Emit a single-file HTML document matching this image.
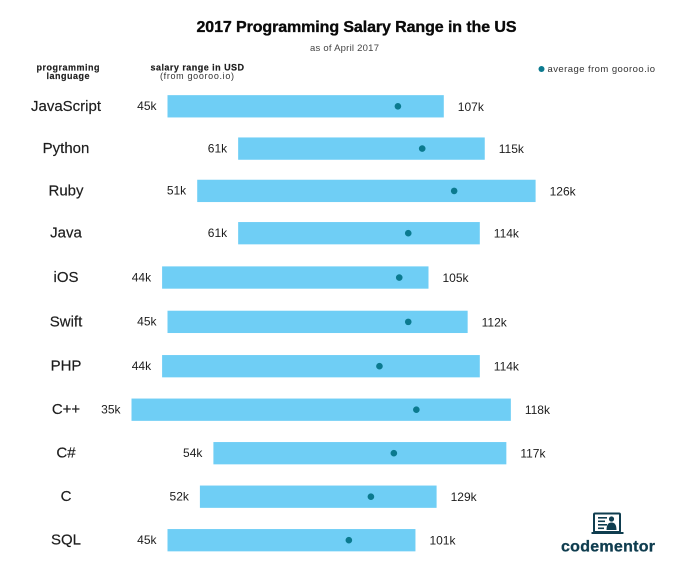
<!DOCTYPE html>
<html lang="en">
<head>
<meta charset="utf-8">
<title>2017 Programming Salary Range in the US</title>
<style>
html,body{margin:0;padding:0;background:#fff;}
svg{display:block;}
text{font-family:"Liberation Sans",sans-serif;fill:#1d1d1d;}
.heavy{stroke:#0a0a0a;stroke-width:.35px;}
.semi{stroke:#1d1d1d;stroke-width:.18px;}
</style>
</head>
<body>
<svg id="chart" width="680" height="577" viewBox="0 0 680 577" xmlns="http://www.w3.org/2000/svg">
  <rect width="680" height="577" fill="#ffffff"/>
  <text class="heavy" x="196.5" y="32" font-size="16" font-weight="bold" style="fill:#0a0a0a" textLength="320" lengthAdjust="spacing">2017 Programming Salary Range in the US</text>
  <text x="310" y="51" font-size="9.5" style="fill:#444" textLength="69" lengthAdjust="spacing">as of April 2017</text>
  <g>
    <text class="semi" x="36.5" y="70.5" font-size="9" font-weight="bold" textLength="63" lengthAdjust="spacing">programming</text>
    <text class="semi" x="46.5" y="79" font-size="9" font-weight="bold" textLength="43" lengthAdjust="spacing">language</text>
  </g>
  <g>
    <text class="semi" x="150.5" y="70.5" font-size="9" font-weight="bold" textLength="93.5" lengthAdjust="spacing">salary range in USD</text>
    <text x="160" y="79" font-size="9" style="fill:#333" textLength="74" lengthAdjust="spacing">(from gooroo.io)</text>
  </g>
  <g>
    <circle cx="541.5" cy="69" r="3" fill="#0b7a8f"/>
    <text x="547.5" y="72" font-size="9.5" style="fill:#333" textLength="107.5" lengthAdjust="spacing">average from gooroo.io</text>
  </g>
  <g id="rows"></g>
  <g>
    <g>
      <rect x="594" y="513.5" width="26" height="18.5" rx="1" fill="none" stroke="#0f3d4f" stroke-width="2"/>
      <rect x="591.5" y="532" width="32" height="2" fill="#0f3d4f"/>
      <rect x="598" y="517" width="9" height="1.6" fill="#0f3d4f"/>
      <rect x="598" y="520.5" width="7" height="1.6" fill="#0f3d4f"/>
      <rect x="598" y="524" width="9" height="1.6" fill="#0f3d4f"/>
      <rect x="598" y="527.5" width="6" height="1.6" fill="#0f3d4f"/>
      <circle cx="611.5" cy="519" r="2.6" fill="#0f3d4f"/>
      <path d="M606.5 530 Q606.5 522.5 611.5 522.5 Q616.5 522.5 616.5 530 Z" fill="#0f3d4f"/>
    </g>
    <text x="561" y="551.5" font-size="16" font-weight="bold" style="fill:#0f3d4f;stroke:#0f3d4f;stroke-width:.3px" textLength="94" lengthAdjust="spacing">codementor</text>
  </g>
</svg>
<script>
const categories = ["JavaScript","Python","Ruby","Java","iOS","Swift","PHP","C++","C#","C","SQL"];
const rangeLow = [45.0,60.7,51.6,60.7,43.8,45.0,43.8,37.0,55.2,52.2,45.0];
const rangeHigh = [106.4,115.5,126.8,114.4,103.0,111.7,114.4,121.3,120.3,104.8,100.1];
const averages = [96.2,101.6,108.7,98.5,96.5,98.5,92.1,100.3,95.3,90.2,85.3];
const lowLabels = ["45k","61k","51k","61k","44k","45k","44k","35k","54k","52k","45k"];
const highLabels = ["107k","115k","126k","114k","105k","112k","114k","118k","117k","129k","101k"];

const SVG_NS = "http://www.w3.org/2000/svg";
const rowsGroup = document.getElementById("rows");

function xScale(value) {
  return 4.5 * value - 35;
}

// Row axis: piecewise linear, matching the uneven row spacing of the artwork.
function yScale(rowIndex) {
  const knots = [0, 3, 6, 10];
  const centers = [106.3, 233.2, 366.2, 540.2];
  for (let k = 0; k < knots.length - 1; k++) {
    if (rowIndex <= knots[k + 1]) {
      const t = (rowIndex - knots[k]) / (knots[k + 1] - knots[k]);
      return centers[k] + t * (centers[k + 1] - centers[k]);
    }
  }
  return centers[centers.length - 1];
}

const BAR_HEIGHT = 22.3;
const DOT_RADIUS = 3.3;

function makeNode(tag, props, label) {
  const node = document.createElementNS(SVG_NS, tag);
  Object.keys(props).forEach(function (key) {
    node.setAttribute(key, props[key]);
  });
  if (label !== undefined) {
    node.textContent = label;
  }
  return node;
}

categories.forEach(function (category, i) {
  const cy = yScale(i);
  const left = xScale(rangeLow[i]);
  const right = xScale(rangeHigh[i]);

  const row = makeNode("g", {});
  
  

  const categoryLabel = makeNode("text", {
    x: 66, y: cy + 4.5, "font-size": 15, "text-anchor": "middle", "class": "semi"
  }, category);
  
  
  row.appendChild(categoryLabel);

  const bar = makeNode("rect", {
    x: left, y: cy - BAR_HEIGHT / 2, width: right - left, height: BAR_HEIGHT, fill: "#6fcef5"
  });
  
  
  row.appendChild(bar);

  const dot = makeNode("circle", {
    cx: xScale(averages[i]), cy: cy, r: DOT_RADIUS, fill: "#0b7a8f"
  });
  
  
  row.appendChild(dot);

  const lowLabel = makeNode("text", {
    x: left - 11, y: cy + 3.8, "font-size": 12, "text-anchor": "end"
  }, lowLabels[i]);
  
  
  row.appendChild(lowLabel);

  const highLabel = makeNode("text", {
    x: right + 14, y: cy + 4.5, "font-size": 12
  }, highLabels[i]);
  
  
  row.appendChild(highLabel);

  rowsGroup.appendChild(row);
});
</script>
</body>
</html>
